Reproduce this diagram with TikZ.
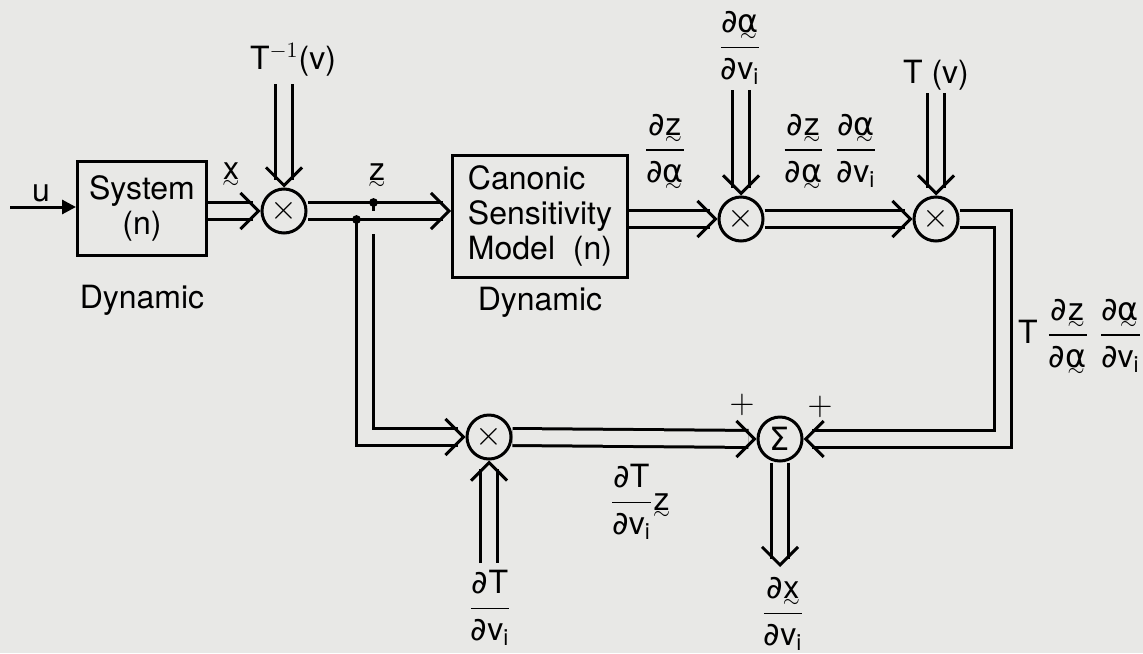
\documentclass[tikz,border=0pt]{standalone}
\usepackage{amsmath}
\usepackage{fontspec}
\setmainfont{TeX Gyre Heros}
\newfontfamily\dvsans{DejaVu Sans}
\usetikzlibrary{arrows.meta}
\usetikzlibrary{backgrounds}
\definecolor{paper}{RGB}{232,232,230}
\newcommand{\vect}[1]{\text{\vtop{\offinterlineskip\halign{\hfil##\hfil\cr#1\cr\noalign{\kern0.5pt}\hbox{$\scriptstyle\sim$}\cr}}}}
\newcommand{\pdiff}{\text{\dvsans ∂}}
\newcommand{\alp}{\dvsans α}
\newcommand{\dvi}{\pdiff\text{v}_{\text{i}}}

\begin{document}
\begin{tikzpicture}[x=0.5pt,y=-0.5pt,
  every node/.style={font=\fontsize{16}{17.5}\selectfont},
  blk/.style={draw,line width=1.5pt},
  junc/.style={draw,circle,line width=1.5pt,minimum size=22pt,inner sep=0pt},
  dbl/.style={double=paper,double distance=7pt,line width=1.5pt,shorten >=4pt},
  hd/.style={line width=1.5pt,-{Straight Barb[length=9pt,width=18pt]}}]
\useasboundingbox (0,0) rectangle (1143,653);

\node[blk,align=center,minimum width=64.5pt,minimum height=47pt] (sys) at (142,208) {System\\(n)};
\node[blk,align=left,minimum width=87.5pt,minimum height=61pt] (csm) at (540,216) {Canonic\\Sensitivity\\Model~~(n)};
\node[junc] (m1) at (284,211) {$\times$};
\node[junc] (m2) at (741,219) {$\times$};
\node[junc] (m4) at (936,219) {$\times$};
\node[junc] (m3) at (489,437) {$\times$};
\node[junc] (sum) at (780,439) {\dvsans Σ};

\coordinate (uin) at (10,207);
\coordinate (tinv) at (284,84);
\coordinate (dain) at (741,90);
\coordinate (tin) at (936,93);
\coordinate (dtin) at (489,563);
\coordinate (out) at (780,567);
\coordinate (br) at (365,211);
\coordinate (zt) at ([xshift=4.25pt,yshift=4.25pt]br);
\coordinate (zb) at ([xshift=-4.25pt,yshift=-4.25pt]br);
\coordinate (zx) at (zt |- zb);
\coordinate (cin) at (csm.west |- m1);

\begin{scope}[on background layer]
\fill[paper] (0,0) rectangle (1143,653);
\draw[dbl] (br) |- (m3.west);
\draw[dbl] (m1.east) -- (cin);
\draw[paper,line width=3pt] ([yshift=-0.9pt]zx) -- ([yshift=-7pt]zx);
\draw[line width=1.5pt] (zt) -- (zt |- br);
\draw[dbl] (sys.east |- m1) -- (m1.west);
\draw[dbl] (tinv) -- (m1.north);
\draw[dbl] (csm.east |- m2) -- (m2.west);
\draw[dbl] (dain) -- (m2.north);
\draw[dbl] (m2.east) -- (m4.west);
\draw[dbl] (tin) -- (m4.north);
\draw[dbl] (m4.east) -- ++(43,0) |- (sum.east);
\draw[dbl] (m3.east) -- (sum.west);
\draw[dbl] (dtin) -- (m3.south);
\draw[dbl] (sum.south) -- (out);
\end{scope}

\draw[line width=1.5pt,-{Triangle[length=7pt,width=7pt]}] (uin) -- (sys.west |- uin);
\draw[hd] ([xshift=-1pt]m1.west) -- (m1.west);
\draw[hd] ([yshift=1pt]m1.north) -- (m1.north);
\draw[hd] ([xshift=-1pt]cin) -- (cin);
\draw[hd] ([xshift=-1pt]m2.west) -- (m2.west);
\draw[hd] ([yshift=1pt]m2.north) -- (m2.north);
\draw[hd] ([xshift=-1pt]m4.west) -- (m4.west);
\draw[hd] ([yshift=1pt]m4.north) -- (m4.north);
\draw[hd] ([xshift=-1pt]m3.west) -- (m3.west);
\draw[hd] ([yshift=-1pt]m3.south) -- (m3.south);
\draw[hd] ([xshift=-1pt]sum.west) -- (sum.west);
\draw[hd] ([xshift=1pt]sum.east) -- (sum.east);
\draw[hd] ([yshift=1pt]out) -- (out);
\fill (zt) circle (2.2pt);
\fill (zb) circle (2.2pt);

\node (lu) at (41,193) {u};
\node (lx) at (231,176) {$\vect{x}$};
\node (lz) at (377,177) {$\vect{z}$};
\node (ltinv) at (293,60) {T$^{-1}$(v)};
\node (ldyn1) at (142,300) {Dynamic};
\node (ldyn2) at (540,302) {Dynamic};
\node (lda) at (740,48) {$\dfrac{\pdiff\vect{\alp}}{\dvi}$};
\node (ldzda) at (665,153) {$\dfrac{\pdiff\vect{z}}{\pdiff\vect{\alp}}$};
\node (lprod) at (830,153) {$\dfrac{\pdiff\vect{z}}{\pdiff\vect{\alp}}\;\dfrac{\pdiff\vect{\alp}}{\dvi}$};
\node (ltv) at (936,75) {T (v)};
\node (lfb) at (1080,338) {T $\dfrac{\pdiff\vect{z}}{\pdiff\vect{\alp}}\;\dfrac{\pdiff\vect{\alp}}{\dvi}$};
\node (lp1) at (742,405) {$+$};
\node (lp2) at (820,407) {$+$};
\node (ldtz) at (640,502) {$\dfrac{\pdiff\text{T}}{\dvi}\vect{z}$};
\node (ldt) at (490,608) {$\dfrac{\pdiff\text{T}}{\dvi}$};
\node (ldx) at (783,614) {$\dfrac{\pdiff\vect{x}}{\dvi}$};
\end{tikzpicture}
\end{document}
